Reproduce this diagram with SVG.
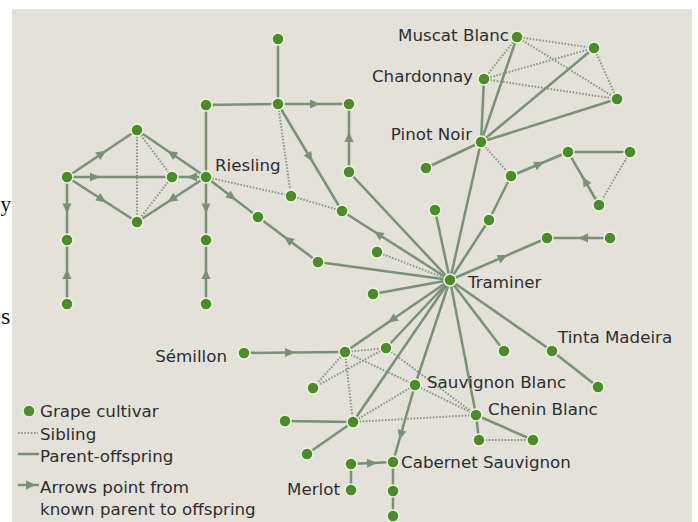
<svg xmlns="http://www.w3.org/2000/svg" width="698" height="522" viewBox="0 0 698 522">
<style>
.po{fill:none;stroke:#7a9178;stroke-width:2.5;stroke-linecap:round}
.ar{fill:none;stroke:#7a9178;stroke-width:2.5;stroke-linecap:round;marker-mid:url(#arr)}
.sib{fill:none;stroke:#889886;stroke-width:2;stroke-dasharray:1.6 1.6}
.n{fill:#4b8a2d;stroke:#eef5d8;stroke-width:1.5}
.lb{font-family:"DejaVu Sans",sans-serif;font-size:16.7px;fill:#2e2e2e}
.sf{font-family:"Liberation Serif",serif;fill:#111}
</style>
<defs>
<marker id="arr" markerUnits="userSpaceOnUse" markerWidth="10" markerHeight="9" refX="5" refY="4.5" orient="auto" overflow="visible">
<path d="M0,0 L10,4.5 L0,9 Z" fill="#7a9178"/>
</marker>
</defs>
<rect x="0" y="0" width="698" height="522" fill="#ffffff"/>
<rect x="12" y="9" width="680" height="513" fill="#e3e1da"/>
<text class="sf" x="0.5" y="211" font-size="21">y</text>
<text class="sf" x="1" y="324" font-size="24">s</text>

<g id="connectors">
<!-- sibling (dotted) -->
<path class="sib" d="M137,130 L137,222"/>
<path class="sib" d="M137,130 L172,177"/>
<path class="sib" d="M172,177 L137,222"/>
<path class="sib" d="M206,177 L291,196"/>
<path class="sib" d="M291,196 L342,211"/>
<path class="sib" d="M278,104 L291,196"/>
<path class="sib" d="M377,252 L450,280"/>
<path class="sib" d="M481,142 L511,176"/>
<path class="sib" d="M517,37 L484,79"/>
<path class="sib" d="M517,37 L594,48"/>
<path class="sib" d="M517,37 L617,99"/>
<path class="sib" d="M484,79 L594,48"/>
<path class="sib" d="M484,79 L617,99"/>
<path class="sib" d="M594,48 L617,99"/>
<path class="sib" d="M630,152 L599,205"/>
<path class="sib" d="M345,352 L386,348"/>
<path class="sib" d="M345,352 L313,388"/>
<path class="sib" d="M386,348 L313,388"/>
<path class="sib" d="M345,352 L353,422"/>
<path class="sib" d="M345,352 L415,385"/>
<path class="sib" d="M386,348 L476,415"/>
<path class="sib" d="M415,385 L476,415"/>
<path class="sib" d="M415,385 L353,422"/>
<path class="sib" d="M353,422 L476,415"/>
<path class="sib" d="M479,440 L533,440"/>
<!-- parent-offspring (solid) -->
<path class="po" d="M206,177 L206,105"/>
<path class="po" d="M206,105 L278,104"/>
<path class="po" d="M278,39 L278,104"/>
<path class="po" d="M349,172 L450,280"/>
<path class="po" d="M318,262 L450,280"/>
<path class="po" d="M373,294 L450,280"/>
<path class="po" d="M435,210 L450,280"/>
<path class="po" d="M481,142 L450,280"/>
<path class="po" d="M489,220 L450,280"/>
<path class="po" d="M489,220 L511,176"/>
<path class="po" d="M481,142 L484,79"/>
<path class="po" d="M481,142 L517,37"/>
<path class="po" d="M481,142 L594,48"/>
<path class="po" d="M481,142 L617,99"/>
<path class="po" d="M481,142 L426,168"/>
<path class="po" d="M568,152 L630,152"/>
<path class="po" d="M450,280 L386,348"/>
<path class="po" d="M450,280 L353,422"/>
<path class="po" d="M450,280 L415,385"/>
<path class="po" d="M450,280 L476,415"/>
<path class="po" d="M450,280 L504,351"/>
<path class="po" d="M450,280 L552,351"/>
<path class="po" d="M552,351 L598,387"/>
<path class="po" d="M285,421 L353,422"/>
<path class="po" d="M307,454 L353,422"/>
<path class="po" d="M476,415 L479,440"/>
<path class="po" d="M476,415 L533,440"/>
<path class="po" d="M351,464 L351,490"/>
<path class="po" d="M393,462 L393,491"/>
<path class="po" d="M393,491 L393,517"/>
<!-- parent-offspring with arrows (parent to offspring) -->
<path class="ar" d="M67,177 L102,153.5 L137,130"/>
<path class="ar" d="M206,177 L171.5,153.5 L137,130"/>
<path class="ar" d="M67,177 L95,177 L172,177"/>
<path class="ar" d="M206,177 L192,177 L172,177"/>
<path class="ar" d="M67,177 L102,199.5 L137,222"/>
<path class="ar" d="M206,177 L171.5,199.5 L137,222"/>
<path class="ar" d="M67,177 L67,208.5 L67,240"/>
<path class="ar" d="M67,304 L67,274 L67,240"/>
<path class="ar" d="M206,177 L206,208.5 L206,240"/>
<path class="ar" d="M206,304 L206,274 L206,240"/>
<path class="ar" d="M278,104 L315,104 L349,104"/>
<path class="ar" d="M349,172 L349,137 L349,104"/>
<path class="ar" d="M278,104 L310,157.5 L342,211"/>
<path class="ar" d="M206,177 L232,197 L258,217"/>
<path class="ar" d="M318,262 L288,239.5 L258,217"/>
<path class="ar" d="M450,280 L378,234 L342,211"/>
<path class="ar" d="M511,176 L539.5,164 L568,152"/>
<path class="ar" d="M599,205 L585,181 L568,152"/>
<path class="ar" d="M610,238 L583,238 L547,238"/>
<path class="ar" d="M450,280 L503,257.1 L547,238"/>
<path class="ar" d="M450,280 L392,319.8 L345,352"/>
<path class="ar" d="M244,353 L290,352.5 L345,352"/>
<path class="ar" d="M415,385 L400.7,435 L393,462"/>
<path class="ar" d="M351,464 L372,463 L393,462"/>
</g>

<g id="nodes">
<g id="n-a"><circle class="n" cx="67" cy="177" r="6"/></g>
<g id="n-b"><circle class="n" cx="137" cy="130" r="6"/></g>
<g id="n-c"><circle class="n" cx="172" cy="177" r="6"/></g>
<g id="n-d"><circle class="n" cx="137" cy="222" r="6"/></g>
<g id="riesling"><circle class="n" cx="206" cy="177" r="6"/><text class="lb" x="215" y="171">Riesling</text></g>
<g id="n-e"><circle class="n" cx="67" cy="240" r="6"/></g>
<g id="n-f"><circle class="n" cx="67" cy="304" r="6"/></g>
<g id="n-g"><circle class="n" cx="206" cy="240" r="6"/></g>
<g id="n-h"><circle class="n" cx="206" cy="304" r="6"/></g>
<g id="n-i"><circle class="n" cx="206" cy="105" r="6"/></g>
<g id="n-j"><circle class="n" cx="278" cy="104" r="6"/></g>
<g id="n-k"><circle class="n" cx="278" cy="39" r="6"/></g>
<g id="n-l"><circle class="n" cx="349" cy="104" r="6"/></g>
<g id="n-m"><circle class="n" cx="349" cy="172" r="6"/></g>
<g id="n-n"><circle class="n" cx="291" cy="196" r="6"/></g>
<g id="n-o"><circle class="n" cx="342" cy="211" r="6"/></g>
<g id="n-p"><circle class="n" cx="258" cy="217" r="6"/></g>
<g id="n-q"><circle class="n" cx="318" cy="262" r="6"/></g>
<g id="n-s"><circle class="n" cx="377" cy="252" r="6"/></g>
<g id="traminer"><circle class="n" cx="450" cy="280" r="6"/><text class="lb" x="468" y="288">Traminer</text></g>
<g id="n-u"><circle class="n" cx="373" cy="294" r="6"/></g>
<g id="n-v"><circle class="n" cx="435" cy="210" r="6"/></g>
<g id="n-w"><circle class="n" cx="489" cy="220" r="6"/></g>
<g id="pinot-noir"><circle class="n" cx="481" cy="142" r="6"/><text class="lb" x="472" y="140" text-anchor="end">Pinot Noir</text></g>
<g id="chardonnay"><circle class="n" cx="484" cy="79" r="6"/><text class="lb" x="473" y="82" text-anchor="end">Chardonnay</text></g>
<g id="muscat-blanc"><circle class="n" cx="517" cy="37" r="6"/><text class="lb" x="509" y="41" text-anchor="end">Muscat Blanc</text></g>
<g id="n-x1"><circle class="n" cx="594" cy="48" r="6"/></g>
<g id="n-x2"><circle class="n" cx="617" cy="99" r="6"/></g>
<g id="n-y"><circle class="n" cx="426" cy="168" r="6"/></g>
<g id="n-z1"><circle class="n" cx="511" cy="176" r="6"/></g>
<g id="n-z2"><circle class="n" cx="568" cy="152" r="6"/></g>
<g id="n-z3"><circle class="n" cx="630" cy="152" r="6"/></g>
<g id="n-z4"><circle class="n" cx="599" cy="205" r="6"/></g>
<g id="n-aa"><circle class="n" cx="547" cy="238" r="6"/></g>
<g id="n-ab"><circle class="n" cx="610" cy="238" r="6"/></g>
<g id="tinta-madeira"><circle class="n" cx="552" cy="351" r="6"/><text class="lb" x="558" y="343">Tinta Madeira</text></g>
<g id="n-ac"><circle class="n" cx="598" cy="387" r="6"/></g>
<g id="n-ad"><circle class="n" cx="504" cy="351" r="6"/></g>
<g id="semillon"><circle class="n" cx="244" cy="353" r="6"/><text class="lb" x="227" y="362" text-anchor="end">Sémillon</text></g>
<g id="n-sb1"><circle class="n" cx="345" cy="352" r="6"/></g>
<g id="n-sb2"><circle class="n" cx="386" cy="348" r="6"/></g>
<g id="n-lf"><circle class="n" cx="313" cy="388" r="6"/></g>
<g id="sauvignon-blanc"><circle class="n" cx="415" cy="385" r="6"/><text class="lb" x="427" y="388">Sauvignon Blanc</text></g>
<g id="n-bt"><circle class="n" cx="353" cy="422" r="6"/></g>
<g id="n-ll"><circle class="n" cx="285" cy="421" r="6"/></g>
<g id="n-lb"><circle class="n" cx="307" cy="454" r="6"/></g>
<g id="chenin-blanc"><circle class="n" cx="476" cy="415" r="6"/><text class="lb" x="488" y="415">Chenin Blanc</text></g>
<g id="n-cb1"><circle class="n" cx="479" cy="440" r="6"/></g>
<g id="n-cb2"><circle class="n" cx="533" cy="440" r="6"/></g>
<g id="n-mu"><circle class="n" cx="351" cy="464" r="6"/></g>
<g id="merlot"><circle class="n" cx="351" cy="490" r="6"/><text class="lb" x="340" y="495" text-anchor="end">Merlot</text></g>
<g id="cabernet-sauvignon"><circle class="n" cx="393" cy="462" r="6"/><text class="lb" x="401" y="468">Cabernet Sauvignon</text></g>
<g id="n-cs1"><circle class="n" cx="393" cy="491" r="6"/></g>
<g id="n-cs2"><circle class="n" cx="393" cy="516" r="6"/></g>
</g>

<g id="legend">
<circle class="n" cx="29" cy="411" r="6"/>
<text class="lb" x="40" y="417">Grape cultivar</text>
<path class="sib" d="M18,433 L38,433"/>
<text class="lb" x="40" y="440">Sibling</text>
<path class="po" d="M19,454 L38,454"/>
<text class="lb" x="40" y="462">Parent-offspring</text>
<path class="ar" d="M19,485 L31,485 L38,485"/>
<text class="lb" x="40" y="493">Arrows point from</text>
<text class="lb" x="40" y="515">known parent to offspring</text>
</g>
</svg>
